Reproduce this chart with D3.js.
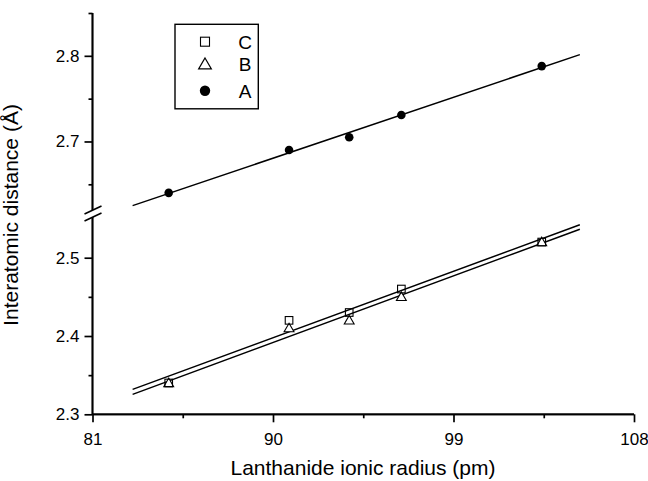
<!DOCTYPE html>
<html><head><meta charset="utf-8">
<script src="https://cdn.jsdelivr.net/npm/d3@7"></script>
<style>
html,body{margin:0;padding:0;background:#fff;}
svg{display:block;font-family:"Liberation Sans",Arial,sans-serif;}
</style></head>
<body><svg id="c" width="648" height="481"></svg>
<script>
// Data
const radius = [84.8, 90.8, 93.8, 96.4, 103.4];
const seriesA = [2.640, 2.690, 2.705, 2.731, 2.788];
const seriesB = [2.34, 2.41, 2.42, 2.45, 2.52];
const seriesC = [2.34, 2.42, 2.43, 2.46, 2.52];
const fitRange = [83.0, 105.3];
const xTicks = [81, 90, 99, 108];
const xMinor = [85.5, 94.5, 103.5];
const yUpperTicks = [2.7, 2.8];
const yUpperMinor = [2.65, 2.75, 2.85];
const yLowerTicks = [2.3, 2.4, 2.5];
const yLowerMinor = [2.35, 2.45];
const legendLabels = ["C", "B", "A"];

const svg = d3.select("#c");
const x = d3.scaleLinear().domain([81, 108]).range([92.5, 634]);
const yU = d3.scaleLinear().domain([2.62, 2.85]).range([210, 13]);
const yL = d3.scaleLinear().domain([2.3, 2.552]).range([414.3, 217]);
const axX = 92.5;

// X axis
const gx = svg.append("g").attr("transform", "translate(0,414.3)");
gx.call(d3.axisBottom(x).tickValues(xTicks).tickSize(8).tickPadding(11).tickFormat(d3.format("d")));
gx.append("g").call(d3.axisBottom(x).tickValues(xMinor).tickSize(4).tickFormat(""));
gx.selectAll(".domain").attr("d", `M${x(81)},0H${x(108)}`);

// Y upper
const gu = svg.append("g").attr("transform", `translate(${axX},0)`);
gu.call(d3.axisLeft(yU).tickValues(yUpperTicks).tickSize(8).tickPadding(5).tickFormat(d3.format(".1f")));
gu.append("g").call(d3.axisLeft(yU).tickValues(yUpperMinor).tickSize(4).tickFormat(""));
gu.selectAll(".domain").attr("d", `M0,${yU(2.85)}V${yU(2.62)}`);
// Y lower
const gl = svg.append("g").attr("transform", `translate(${axX},0)`);
gl.call(d3.axisLeft(yL).tickValues(yLowerTicks).tickSize(8).tickPadding(5).tickFormat(d3.format(".1f")));
gl.append("g").call(d3.axisLeft(yL).tickValues(yLowerMinor).tickSize(4).tickFormat(""));
gl.selectAll(".domain").attr("d", `M0,${yL(2.552)}V${yL(2.3)}`);
[gx, gu, gl].forEach(g => g.attr("font-size", 17).attr("font-family", "'Liberation Sans',Arial,sans-serif"));
svg.selectAll("g line").attr("stroke-width", 1.7).attr("stroke", "#000");
svg.selectAll(".domain").attr("stroke", "#000").attr("stroke-width", 1.7);
svg.selectAll("g text").attr("font-size", 17).attr("fill", "#000");

// break marks
const bk = svg.append("g").attr("stroke", "#000").attr("stroke-width", 1.6);
bk.append("line").attr("x1", axX - 8).attr("y1", yU(2.62) + 4).attr("x2", axX + 9).attr("y2", yU(2.62) - 4);
bk.append("line").attr("x1", axX - 8).attr("y1", yL(2.552) + 4).attr("x2", axX + 9).attr("y2", yL(2.552) - 4);

// regression
function fit(xs, ys) {
  const mx = d3.mean(xs), my = d3.mean(ys);
  let sxy = 0, sxx = 0;
  xs.forEach((v, i) => { sxy += (v - mx) * (ys[i] - my); sxx += (v - mx) * (v - mx); });
  const b = sxy / sxx;
  return v => my + b * (v - mx);
}
function drawFit(ys, yScale) {
  const f = fit(radius, ys);
  svg.append("path")
    .datum(fitRange)
    .attr("d", d3.line().x(d => x(d)).y(d => yScale(f(d))))
    .attr("stroke", "#000").attr("stroke-width", 1.5).attr("fill", "none");
}
drawFit(seriesA, yU);
drawFit(seriesC, yL);
drawFit(seriesB, yL);

// markers
const tri = d3.symbol().type(d3.symbolTriangle).size(42);
svg.append("g").selectAll("path").data(radius).join("path")
  .attr("d", tri)
  .attr("transform", (d, i) => `translate(${x(d)},${yL(seriesB[i]) + 0.8})`)
  .attr("fill", "#fff").attr("stroke", "#000").attr("stroke-width", 1.1);
svg.append("g").selectAll("rect").data(radius).join("rect")
  .attr("x", d => x(d) - 3.8).attr("y", (d, i) => yL(seriesC[i]) - 3.8)
  .attr("width", 7.6).attr("height", 7.6)
  .attr("fill", "none").attr("stroke", "#000").attr("stroke-width", 1.1);
svg.append("g").selectAll("circle").data(radius).join("circle")
  .attr("cx", d => x(d)).attr("cy", (d, i) => yU(seriesA[i])).attr("r", 4.3)
  .attr("fill", "#000");

// legend
const lg = svg.append("g");
lg.append("rect").attr("x", 175).attr("y", 24.3).attr("width", 83.3).attr("height", 84.5)
  .attr("fill", "none").attr("stroke", "#000").attr("stroke-width", 1.4);
const ly = [41.7, 64.3, 90.7];
lg.append("rect").attr("x", 205 - 4.5).attr("y", ly[0] - 4.5).attr("width", 9).attr("height", 9)
  .attr("fill", "none").attr("stroke", "#000").attr("stroke-width", 1.1);
lg.append("path").attr("d", d3.symbol().type(d3.symbolTriangle).size(70))
  .attr("transform", `translate(205,${ly[1] + 1})`).attr("fill", "none").attr("stroke", "#000").attr("stroke-width", 1.2);
lg.append("circle").attr("cx", 205).attr("cy", ly[2]).attr("r", 5.2).attr("fill", "#000");
lg.selectAll("text").data(legendLabels).join("text")
  .attr("x", 245).attr("y", (d, i) => ly[i]).attr("dy", "0.36em")
  .attr("text-anchor", "middle").attr("font-size", 19).text(d => d);

// axis titles
svg.append("text").attr("x", 363).attr("y", 475).attr("text-anchor", "middle")
  .attr("font-size", 21).text("Lanthanide ionic radius (pm)");
svg.append("text").attr("transform", "translate(18,215) rotate(-90)").attr("text-anchor", "middle")
  .attr("font-size", 21).text("Interatomic distance (Å)");
</script></body></html>
